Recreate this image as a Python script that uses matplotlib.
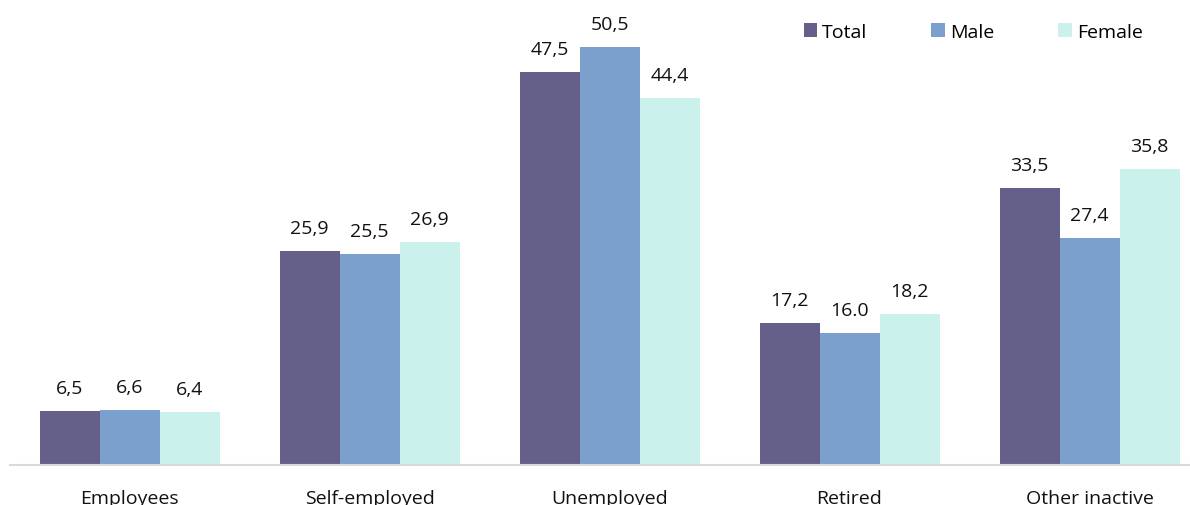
import matplotlib.pyplot as plt
import numpy as np

categories = ["Employees", "Self-employed", "Unemployed", "Retired", "Other inactive"]
total = [6.5, 25.9, 47.5, 17.2, 33.5]
male = [6.6, 25.5, 50.5, 16.0, 27.4]
female = [6.4, 26.9, 44.4, 18.2, 35.8]
total_lbl = ["6,5", "25,9", "47,5", "17,2", "33,5"]
male_lbl = ["6,6", "25,5", "50,5", "16.0", "27,4"]
female_lbl = ["6,4", "26,9", "44,4", "18,2", "35,8"]

colors = ["#656089", "#7ba0cd", "#cbf1ed"]

plt.rcParams["font.family"] = ["Open Sans", "DejaVu Sans"]

fig = plt.figure(figsize=(11.9, 5.06), dpi=100)
# axes spans past the right edge, like the cropped original
ax = fig.add_axes([9.5 / 1190, 40 / 506, 1200 / 1190, 466 / 506])

x = np.arange(len(categories))
w = 0.25
series = [(total, total_lbl, "Total"), (male, male_lbl, "Male"), (female, female_lbl, "Female")]
for k, (vals, lbls, name) in enumerate(series):
    bars = ax.bar(x + (k - 1) * w, vals, w, color=colors[k], label=name)
    for b, t in zip(bars, lbls):
        ax.annotate(t, (b.get_x() + b.get_width() / 2, b.get_height()),
                    xytext=(0, 10), textcoords="offset points",
                    ha="center", va="bottom", fontsize=14, color="#111111")

ax.set_xlim(-0.5, 4.5)
ax.set_ylim(0, 466 / 8.277)
ax.set_xticks(x)
ax.set_xticklabels(categories, fontsize=14, color="#111111")
ax.tick_params(axis="x", length=0, pad=17)
ax.set_yticks([])
for s in ["top", "right", "left"]:
    ax.spines[s].set_visible(False)
ax.spines["bottom"].set_color("#d9d9d9")
ax.spines["bottom"].set_linewidth(1.5)

fig.legend(loc="upper left", bbox_to_anchor=(786 / 1190, 1 - 6 / 506), ncol=3,
           frameon=False, fontsize=14, handlelength=0.7, handleheight=0.7,
           columnspacing=3.3, handletextpad=0.25)

fig.savefig("out.png", dpi=100)
